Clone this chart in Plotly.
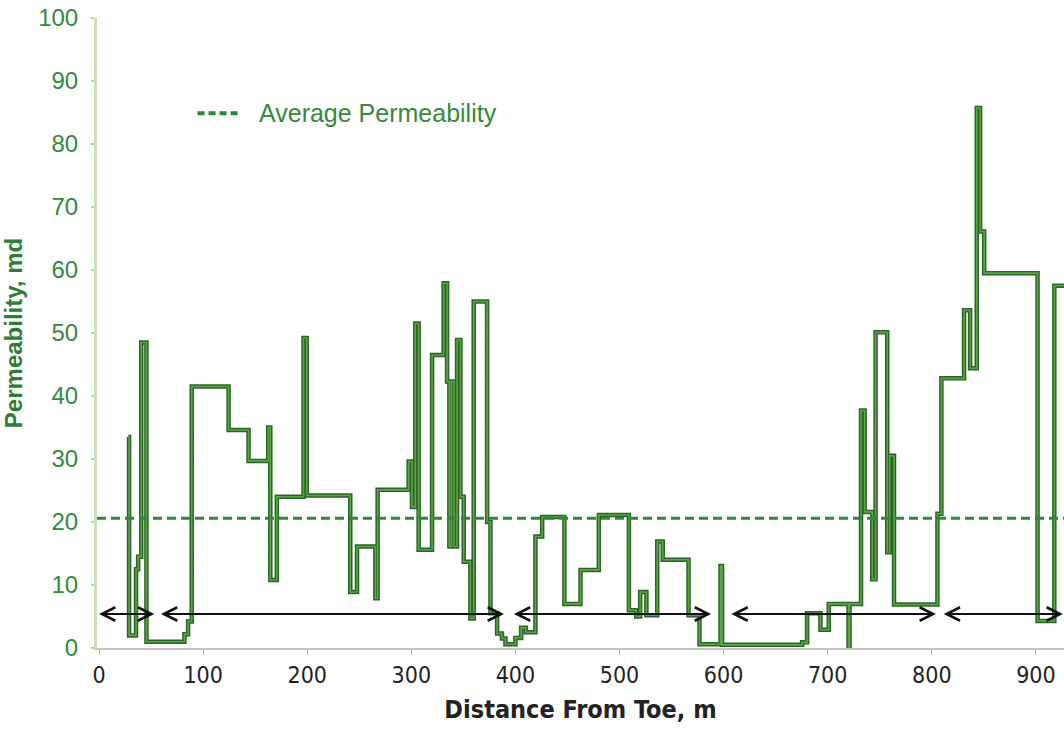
import plotly.graph_objects as go

# Permeability log along the lateral (step profile: value holds until next distance)
distance_m = [
    28.2, 28.8, 35.5, 37.5, 40.5, 45.5, 82.0, 85.5, 89.0, 124.4,
    143.6, 162.5, 164.5, 170.8, 196.4, 199.5, 241.3, 247.8, 265.4, 267.6,
    297.4, 300.6, 303.8, 307.0, 319.9, 331.0, 334.3, 336.5, 338.5, 341.0,
    343.9, 347.1, 350.3, 356.7, 359.9, 372.8, 376.0, 382.4, 387.0, 390.4,
    400.0, 405.5, 410.0, 419.2, 425.7, 447.0, 462.5, 480.1, 509.0, 516.0,
    519.8, 525.8, 536.2, 541.5, 566.3, 576.8, 597.0, 598.5, 675.4, 680.2,
    693.0, 701.0, 720.0, 721.0, 732.0, 735.5, 742.8, 746.0, 757.2, 759.5,
    763.7, 805.4, 809.2, 831.0, 836.8, 843.2, 846.4, 850.3, 901.6, 917.7,
    927.0,
]
permeability_md = [
    33.5, 2.0, 12.5, 14.5, 48.5, 1.0, 2.2, 4.2, 41.5, 34.6,
    29.7, 35.0, 10.8, 24.0, 49.2, 24.2, 8.9, 16.1, 7.9, 25.1,
    29.6, 22.4, 51.5, 15.6, 46.5, 57.9, 42.3, 16.1, 42.3, 16.1,
    48.9, 24.0, 13.7, 4.7, 55.0, 20.0, 5.5, 2.3, 1.5, 0.6,
    1.6, 3.2, 2.5, 17.7, 20.8, 7.0, 12.4, 21.1, 6.0, 5.0,
    8.9, 5.2, 16.9, 14.0, 5.2, 0.6, 13.0, 0.5, 0.9, 5.5,
    2.9, 7.0, 0.0, 7.0, 37.7, 21.6, 10.9, 50.1, 15.2, 30.5,
    6.9, 21.3, 42.8, 53.6, 44.4, 85.7, 66.1, 59.5, 4.3, 57.5,
    57.5,
]

AVG_PERM = 20.6

# Completion intervals (start, end) shown as double-headed arrows
interval_start = [-1.5, 58, 397, 606, 810]
interval_end = [53, 389, 588, 804, 926]
INTERVAL_LEVEL = 5.4

X_RANGE = [-2, 927]
x_ticks = [0, 100, 200, 300, 400, 500, 600, 700, 800, 900]
y_ticks = [0, 10, 20, 30, 40, 50, 60, 70, 80, 90, 100]

GREEN_DARK = "#296526"
GREEN_LIGHT = "#5fa447"
GREEN_TEXT = "#348a3a"
CONDENSED = "Liberation Sans Narrow, Arial Narrow, DejaVu Sans Condensed, Liberation Sans, sans-serif"

fig = go.Figure()

# Outline + lighter core gives the double-stroke look of the log
fig.add_trace(go.Scatter(
    x=distance_m, y=permeability_md, mode="lines",
    line=dict(color=GREEN_DARK, width=4.5, shape="hv"),
    showlegend=False, hoverinfo="skip",
))
fig.add_trace(go.Scatter(
    x=distance_m, y=permeability_md, mode="lines",
    line=dict(color=GREEN_LIGHT, width=1.6, shape="hv"),
    showlegend=False,
))

# Average permeability
fig.add_shape(type="line", xref="paper", x0=0, x1=1, yref="y",
              y0=AVG_PERM, y1=AVG_PERM,
              line=dict(color="#2a8a3a", width=3, dash="9px,5px"))

# Legend entry for the average line
fig.add_shape(type="line", xref="paper", yref="paper",
              x0=0.104, x1=0.148, y0=0.849, y1=0.849,
              line=dict(color="#2a8a3a", width=4, dash="7px,4px"))
fig.add_annotation(xref="paper", yref="paper", x=0.165, y=0.849,
                   text="Average Permeability", showarrow=False,
                   xanchor="left", yanchor="middle",
                   font=dict(family="Liberation Sans, Arial, sans-serif",
                             size=25, color=GREEN_TEXT))

# Interval arrows
for s, e in zip(interval_start, interval_end):
    fig.add_annotation(
        x=e, y=INTERVAL_LEVEL, ax=s, ay=INTERVAL_LEVEL,
        xref="x", yref="y", axref="x", ayref="y",
        text="", showarrow=True,
        arrowhead=5, startarrowhead=5, arrowside="end+start",
        arrowsize=1.2, startarrowsize=1.2,
        arrowwidth=2.2, arrowcolor="#111111",
    )

fig.update_layout(
    width=1064, height=731,
    margin=dict(l=97, r=0, t=18, b=83),
    plot_bgcolor="white", paper_bgcolor="white",
    showlegend=False,
)

fig.update_xaxes(
    range=X_RANGE, tickvals=x_ticks, ticktext=[str(v) for v in x_ticks],
    showgrid=False, zeroline=False,
    showline=True, linecolor="#c4c4c4", linewidth=2,
    ticks="outside", ticklen=5, tickcolor="#b0b0b0", tickwidth=1,
    tickfont=dict(family=CONDENSED, size=23, color="#222222"),
    title=dict(text="<b>Distance From Toe, m</b>", standoff=14,
               font=dict(family=CONDENSED, size=25, color="#222222")),
    automargin=False,
)

fig.update_yaxes(
    range=[0, 100], tickvals=y_ticks, ticktext=[str(v) for v in y_ticks],
    showgrid=False, zeroline=False,
    showline=True, linecolor="#c9e2b8", linewidth=3,
    ticks="outside", ticklen=3, tickcolor="#b5d8a0", tickwidth=1.5,
    ticklabelstandoff=8,
    tickfont=dict(family="Liberation Sans, Arial, sans-serif", size=24, color=GREEN_TEXT),
    title=dict(text="<b>Permeability, md</b>", standoff=10,
               font=dict(family="Liberation Sans, Arial, sans-serif", size=24, color="#2e7d32")),
    automargin=False,
)

fig.write_html("out.html")
